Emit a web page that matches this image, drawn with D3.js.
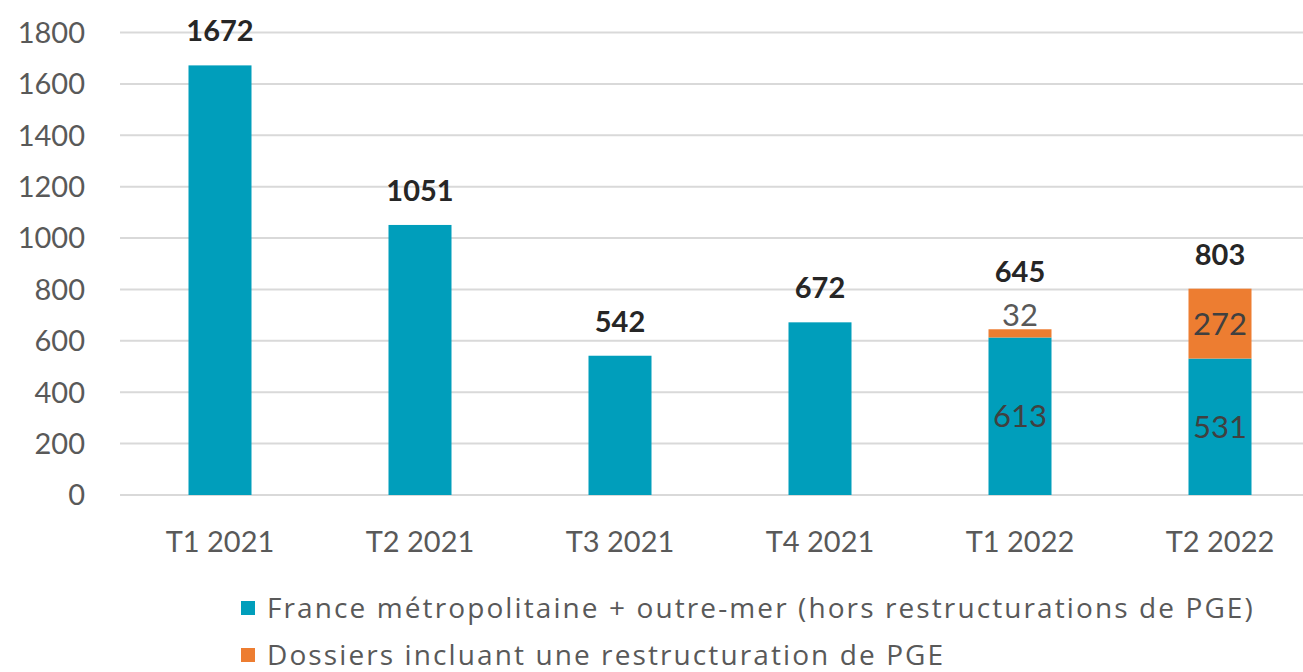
<!DOCTYPE html>
<html>
<head>
<meta charset="utf-8">
<script src="https://cdn.jsdelivr.net/npm/d3@7"></script>
<style>
  body { margin: 0; background: #fff; }
  svg { display: block; }
</style>
</head>
<body>
<div id="chart"></div>
<script>
// chart data
var categories = ["T1 2021", "T2 2021", "T3 2021", "T4 2021", "T1 2022", "T2 2022"];
var franceValues = [1672, 1051, 542, 672, 613, 531];
var pgeValues = [0, 0, 0, 0, 32, 272];
var yTicks = [0, 200, 400, 600, 800, 1000, 1200, 1400, 1600, 1800];
var legendLabels = [
  "France métropolitaine + outre-mer (hors restructurations de PGE)",
  "Dossiers incluant une restructuration de PGE"
];

var svgWidth = 1303;
var svgHeight = 672;

var teal = "#009EBB";
var orange = "#ED7D31";

var svg = d3.select("#chart")
  .append("svg")
  .attr("width", svgWidth)
  .attr("height", svgHeight);

// scales
var x = d3.scaleBand()
  .domain(categories)
  .range([120, 1320])
  .padding(0);

var barWidth = 63;

var y = d3.scaleLinear()
  .domain([0, 1800])
  .range([495, 32.5]);

// gridlines
svg.append("g")
  .selectAll("line")
  .data(yTicks)
  .enter()
  .append("line")
  .attr("x1", 120)
  .attr("x2", svgWidth)
  .attr("y1", d => y(d))
  .attr("y2", d => y(d))
  .attr("stroke", "#D9D9D9")
  .attr("stroke-width", 2);

// y tick labels
svg.append("g")
  .selectAll("text")
  .data(yTicks)
  .enter()
  .append("text")
  .attr("x", 85)
  .attr("y", d => y(d))
  .attr("dy", "0.36em")
  .attr("text-anchor", "end")
  .attr("font-family", "Lato, sans-serif")
  .attr("font-size", "29px")
  .attr("fill", "#595959")
  .text(d => d);

// build stacked rows
var rows = categories.map(function(c, i) {
  return { cat: c, france: franceValues[i], pge: pgeValues[i], total: franceValues[i] + pgeValues[i] };
});

function cx(d) { return x(d.cat) + x.bandwidth() / 2; }

// france bars
svg.append("g")
  .selectAll("rect")
  .data(rows)
  .enter()
  .append("rect")
  .attr("x", d => cx(d) - barWidth / 2)
  .attr("y", d => y(d.france))
  .attr("width", barWidth)
  .attr("height", d => y(0) - y(d.france))
  .attr("fill", teal);

// pge bars on top
svg.append("g")
  .selectAll("rect")
  .data(rows.filter(d => d.pge > 0))
  .enter()
  .append("rect")
  .attr("x", d => cx(d) - barWidth / 2)
  .attr("y", d => y(d.total))
  .attr("width", barWidth)
  .attr("height", d => y(d.france) - y(d.total))
  .attr("fill", orange);

var stacked = rows.filter(d => d.pge > 0);

// segment labels for stacked bars
svg.append("g")
  .selectAll("text")
  .data(stacked)
  .enter()
  .append("text")
  .attr("x", cx)
  .attr("y", d => (y(0) + y(d.france)) / 2)
  .attr("dy", "0.36em")
  .attr("text-anchor", "middle")
  .attr("font-family", "Lato, sans-serif")
  .attr("font-size", "31px")
  .attr("fill", "#404040")
  .text(d => d.france);

// small segments get their label above the bar
function smallTop(d) { return d.pge > 0 && (y(d.france) - y(d.total)) < 30; }

svg.append("g")
  .selectAll("text")
  .data(stacked)
  .enter()
  .append("text")
  .attr("x", cx)
  .attr("y", d => smallTop(d) ? y(d.total) - 3 : (y(d.france) + y(d.total)) / 2)
  .attr("dy", d => smallTop(d) ? "0" : "0.36em")
  .attr("text-anchor", "middle")
  .attr("font-family", "Lato, sans-serif")
  .attr("font-size", "31px")
  .attr("fill", d => smallTop(d) ? "#595959" : "#404040")
  .text(d => d.pge);

// total labels
svg.append("g")
  .selectAll("text")
  .data(rows)
  .enter()
  .append("text")
  .attr("x", cx)
  .attr("y", d => y(d.total) - (smallTop(d) ? 47 : 24))
  .attr("text-anchor", "middle")
  .attr("font-family", "Lato, sans-serif")
  .attr("font-weight", "bold")
  .attr("font-size", "29px")
  .attr("fill", "#262626")
  .text(d => d.total);

// x axis labels
svg.append("g")
  .selectAll("text")
  .data(categories)
  .enter()
  .append("text")
  .attr("x", d => x(d) + x.bandwidth() / 2)
  .attr("y", 552)
  .attr("text-anchor", "middle")
  .attr("font-family", "Lato, sans-serif")
  .attr("font-size", "29px")
  .attr("fill", "#595959")
  .text(d => d);

// legend
var legend = svg.append("g")
  .selectAll("g")
  .data(legendLabels)
  .enter()
  .append("g")
  .attr("transform", (d, i) => `translate(241, ${608 + i * 47})`);

legend.append("rect")
  .attr("x", 0)
  .attr("y", -7)
  .attr("width", 14)
  .attr("height", 14)
  .attr("fill", (d, i) => i === 0 ? teal : orange);

legend.append("text")
  .attr("x", 26)
  .attr("y", 0)
  .attr("dy", "0.34em")
  .attr("font-family", "'Open Sans', sans-serif")
  .attr("font-size", "28px")
  .attr("letter-spacing", "2.1px")
  .attr("fill", "#595959")
  .text(d => d);
</script>
</body>
</html>
